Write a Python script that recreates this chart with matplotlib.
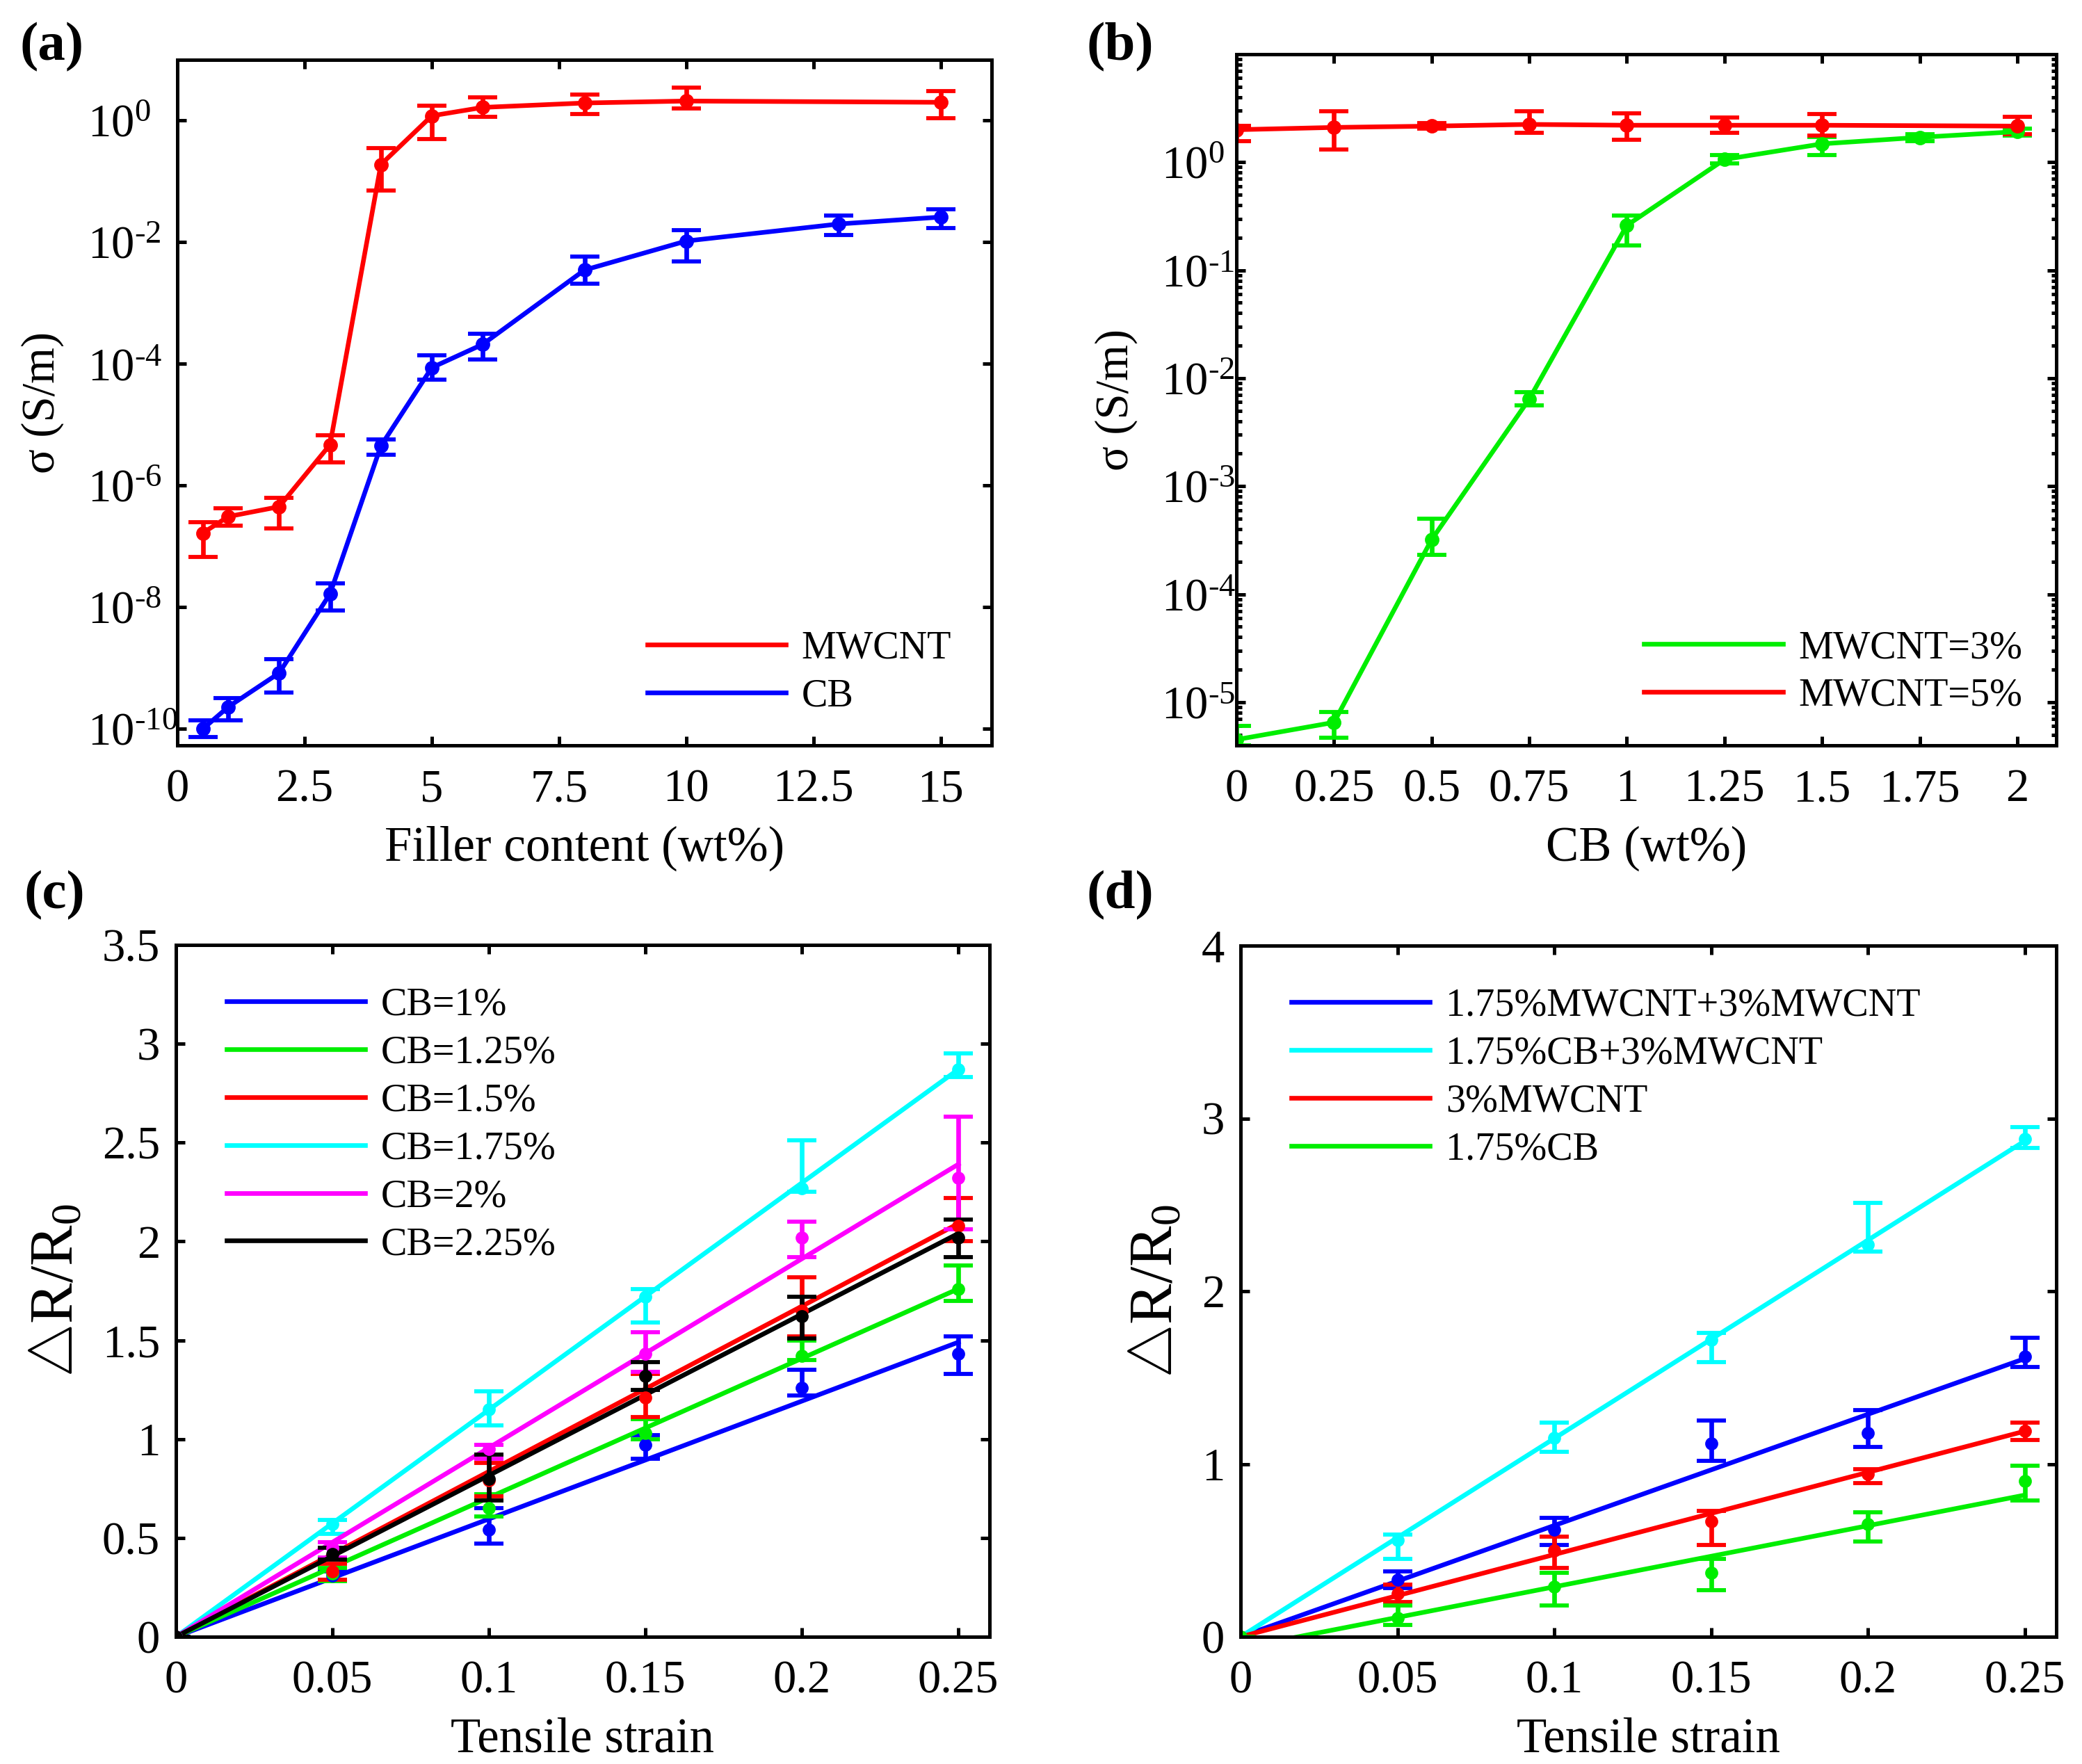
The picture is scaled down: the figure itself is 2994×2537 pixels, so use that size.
import numpy as np
import matplotlib
matplotlib.use("Agg")
import matplotlib.pyplot as plt
from matplotlib.ticker import FixedLocator, FixedFormatter, LogLocator, NullLocator

plt.rcParams.update({
    "font.family": "Liberation Serif",
    "mathtext.fontset": "custom",
    "mathtext.rm": "Liberation Serif",
    "mathtext.it": "Liberation Serif:italic",
    "mathtext.bf": "Liberation Serif:bold",
    "axes.linewidth": 1.2,
})

# ── (a) conductivity vs filler content ──────────────────────────────
a_x_mwcnt = [0.5, 1, 2, 3, 4, 5, 6, 8, 10, 15]
a_y_mwcnt = [1.66e-7, 3.1e-7, 4.5e-7, 4.7e-6, 0.19, 1.2, 1.65, 1.95, 2.1, 2.0]
a_lo_mwcnt = [6.8e-8, 2.2e-7, 2.0e-7, 2.4e-6, 0.071, 0.5, 1.15, 1.29, 1.58, 1.1]
a_hi_mwcnt = [2.5e-7, 4.2e-7, 6.3e-7, 6.8e-6, 0.35, 1.78, 2.4, 2.7, 3.5, 3.1]

a_x_cb = [0.5, 1, 2, 3, 4, 5, 6, 8, 10, 13, 15]
a_y_cb = [1.0e-10, 2.3e-10, 8.3e-10, 1.66e-8, 4.5e-6, 8.7e-5, 2.1e-4, 3.5e-3, 1.05e-2, 2.0e-2, 2.6e-2]
a_lo_cb = [7.4e-11, 1.4e-10, 4.0e-10, 8.9e-9, 3.2e-6, 5.5e-5, 1.2e-4, 2.1e-3, 4.8e-3, 1.3e-2, 1.7e-2]
a_hi_cb = [1.4e-10, 3.2e-10, 1.4e-9, 2.5e-8, 5.8e-6, 1.4e-4, 3.1e-4, 5.8e-3, 1.6e-2, 2.75e-2, 3.5e-2]

a_xticks = [0, 2.5, 5, 7.5, 10, 12.5, 15]
a_xticklabels = ["0", "2.5", "5", "7.5", "10", "12.5", "15"]
a_yticks = [1e-10, 1e-8, 1e-6, 1e-4, 1e-2, 1e0]
a_yticklabels = [r"$\mathregular{10^{\text{-}10}}$", r"$\mathregular{10^{\text{-}8}}$",
                 r"$\mathregular{10^{\text{-}6}}$", r"$\mathregular{10^{\text{-}4}}$",
                 r"$\mathregular{10^{\text{-}2}}$", r"$\mathregular{10^{0}}$"]

# ── (b) conductivity vs CB content ──────────────────────────────────
b_x_m3 = [0, 0.25, 0.5, 0.75, 1, 1.25, 1.5, 1.75, 2]
b_y_m3 = [4.5e-6, 6.5e-6, 3.2e-4, 6.4e-3, 0.26, 1.06, 1.48, 1.70, 1.92]
b_lo_m3 = [4.0e-6, 4.7e-6, 2.3e-4, 5.6e-3, 0.17, 0.97, 1.17, 1.57, 1.77]
b_hi_m3 = [6.0e-6, 8.1e-6, 5.0e-4, 7.4e-3, 0.32, 1.17, 1.71, 1.83, 2.06]

b_x_m5 = [0, 0.25, 0.5, 0.75, 1, 1.25, 1.5, 2]
b_y_m5 = [2.0, 2.1, 2.16, 2.24, 2.2, 2.2, 2.2, 2.16]
b_lo_m5 = [1.57, 1.32, 2.05, 1.87, 1.61, 1.88, 1.77, 1.83]
b_hi_m5 = [2.16, 2.95, 2.3, 2.95, 2.85, 2.59, 2.78, 2.62]

b_xticks = [0, 0.25, 0.5, 0.75, 1, 1.25, 1.5, 1.75, 2]
b_xticklabels = ["0", "0.25", "0.5", "0.75", "1", "1.25", "1.5", "1.75", "2"]
b_yticks = [1e-5, 1e-4, 1e-3, 1e-2, 1e-1, 1e0]
b_yticklabels = [r"$\mathregular{10^{\text{-}5}}$", r"$\mathregular{10^{\text{-}4}}$",
                 r"$\mathregular{10^{\text{-}3}}$", r"$\mathregular{10^{\text{-}2}}$",
                 r"$\mathregular{10^{\text{-}1}}$", r"$\mathregular{10^{0}}$"]

# ── (c) strain response for CB loadings ─────────────────────────────
strain = [0, 0.05, 0.1, 0.15, 0.2, 0.25]
c_labels = ["CB=1%", "CB=1.25%", "CB=1.5%", "CB=1.75%", "CB=2%", "CB=2.25%"]
c_colors = ["#0000FF", "#00EE00", "#FF0000", "#00FFFF", "#FF00FF", "#000000"]
c_y = [
    [0, 0.31, 0.54, 0.97, 1.26, 1.43],
    [0, 0.32, 0.65, 1.03, 1.42, 1.76],
    [0, 0.33, 0.79, 1.21, 1.65, 2.08],
    [0, 0.57, 1.15, 1.72, 2.27, 2.87],
    [0, 0.45, 0.95, 1.43, 2.02, 2.32],
    [0, 0.42, 0.80, 1.32, 1.62, 2.02],
]
c_lo = [
    [0, 0.29, 0.47, 0.90, 1.22, 1.33],
    [0, 0.28, 0.61, 1.00, 1.40, 1.70],
    [0, 0.29, 0.71, 1.11, 1.52, 2.00],
    [0, 0.52, 1.07, 1.59, 2.25, 2.83],
    [0, 0.40, 0.90, 1.34, 1.92, 2.06],
    [0, 0.39, 0.69, 1.25, 1.51, 1.92],
]
c_hi = [
    [0, 0.33, 0.65, 1.02, 1.35, 1.52],
    [0, 0.35, 0.72, 1.10, 1.50, 1.88],
    [0, 0.37, 0.88, 1.33, 1.82, 2.22],
    [0, 0.59, 1.24, 1.76, 2.51, 2.95],
    [0, 0.48, 0.97, 1.54, 2.10, 2.63],
    [0, 0.45, 0.92, 1.39, 1.72, 2.11],
]
# linear fit lines, value at strain 0 and at strain 0.25
c_fit = [[0, 1.49], [0, 1.76], [0, 2.09], [0, 2.87], [0, 2.39], [0, 2.04]]

# ── (d) strain response for filler systems ──────────────────────────
d_labels = ["1.75%MWCNT+3%MWCNT", "1.75%CB+3%MWCNT", "3%MWCNT", "1.75%CB"]
d_colors = ["#0000FF", "#00FFFF", "#FF0000", "#00EE00"]
d_y = [
    [0, 0.33, 0.62, 1.12, 1.18, 1.62],
    [0, 0.56, 1.15, 1.72, 2.27, 2.88],
    [0, 0.25, 0.50, 0.67, 0.94, 1.19],
    [0, 0.11, 0.29, 0.37, 0.65, 0.90],
]
d_lo = [
    [0, 0.28, 0.53, 1.02, 1.10, 1.56],
    [0, 0.45, 1.07, 1.59, 2.23, 2.83],
    [0, 0.20, 0.40, 0.53, 0.89, 1.14],
    [0, 0.07, 0.18, 0.27, 0.55, 0.79],
]
d_hi = [
    [0, 0.38, 0.69, 1.25, 1.31, 1.73],
    [0, 0.59, 1.24, 1.76, 2.51, 2.95],
    [0, 0.30, 0.58, 0.73, 0.97, 1.24],
    [0, 0.18, 0.37, 0.45, 0.72, 0.99],
]
d_fit = [[0, 1.61], [0, 2.87], [0, 1.19], [-0.065, 0.82]]

strain_ticks = [0, 0.05, 0.1, 0.15, 0.2, 0.25]
strain_ticklabels = ["0", "0.05", "0.1", "0.15", "0.2", "0.25"]
c_yticks = [0, 0.5, 1, 1.5, 2, 2.5, 3, 3.5]
c_yticklabels = ["0", "0.5", "1", "1.5", "2", "2.5", "3", "3.5"]
d_yticks = [0, 1, 2, 3, 4]
d_yticklabels = ["0", "1", "2", "3", "4"]

TICK_FS = 16
LEG_FS = 13.5
XLAB_FS = 17
LW = 1.6
EB = dict(elinewidth=1.6, capsize=5.0, capthick=1.4, marker="o", markersize=4.0)
LEG = dict(frameon=False, fontsize=LEG_FS, handlelength=3.55, handletextpad=0.4,
           labelspacing=0.3, borderpad=0, borderaxespad=0, loc="upper left")


def errs(y, lo, hi):
    y = np.asarray(y, float)
    return [y - np.asarray(lo, float), np.asarray(hi, float) - y]


def style(ax):
    ax.tick_params(which="both", direction="in", top=True, right=True,
                   labelsize=TICK_FS, width=1.2)
    ax.tick_params(which="major", length=3.2)
    ax.tick_params(which="minor", length=1.8)
    ax.tick_params(axis="x", pad=8)


W, H = 2994, 2537
fig = plt.figure(figsize=(W / 300, H / 300), dpi=300)


def box(l, t, r, b):
    return [l / W, 1 - b / H, (r - l) / W, (b - t) / H]


ax_a = fig.add_axes(box(255, 86, 1426, 1072))
ax_b = fig.add_axes(box(1778, 78, 2957, 1072))
ax_c = fig.add_axes(box(253, 1359, 1423, 2354))
ax_d = fig.add_axes(box(1784, 1360, 2957, 2354))

# ── panel (a) ───────────────────────────────────────────────────────
for x, y, lo, hi, col, lab in [(a_x_mwcnt, a_y_mwcnt, a_lo_mwcnt, a_hi_mwcnt, "#FF0000", "MWCNT"),
                               (a_x_cb, a_y_cb, a_lo_cb, a_hi_cb, "#0000FF", "CB")]:
    ax_a.errorbar(x, y, yerr=errs(y, lo, hi), color=col, lw=LW, **EB)
    ax_a.plot([], [], color=col, lw=LW, label=lab)
ax_a.set_yscale("log")
ax_a.set_xlim(0, 16)
ax_a.set_ylim(10 ** -10.27, 10 ** 1)
ax_a.xaxis.set_major_locator(FixedLocator(a_xticks))
ax_a.xaxis.set_major_formatter(FixedFormatter(a_xticklabels))
ax_a.yaxis.set_major_locator(FixedLocator(a_yticks))
ax_a.yaxis.set_major_formatter(FixedFormatter(a_yticklabels))
ax_a.yaxis.set_minor_locator(NullLocator())
style(ax_a)
ax_a.tick_params(axis="y", pad=31)
for t in ax_a.get_yticklabels():
    t.set_ha("left")
ax_a.set_xlabel("Filler content (wt%)", fontsize=XLAB_FS, labelpad=5)
ax_a.set_ylabel("σ (S/m)", fontsize=16, labelpad=8)
ax_a.legend(bbox_to_anchor=(0.577, 0.168), **LEG)

# ── panel (b) ───────────────────────────────────────────────────────
ax_b.errorbar(b_x_m3, b_y_m3, yerr=errs(b_y_m3, b_lo_m3, b_hi_m3), color="#00EE00", lw=LW, **EB)
ax_b.errorbar(b_x_m5, b_y_m5, yerr=errs(b_y_m5, b_lo_m5, b_hi_m5), color="#FF0000", lw=LW, **EB)
ax_b.plot([], [], color="#00EE00", lw=LW, label="MWCNT=3%")
ax_b.plot([], [], color="#FF0000", lw=LW, label="MWCNT=5%")
ax_b.set_yscale("log")
ax_b.set_xlim(0, 2.1)
ax_b.set_ylim(10 ** -5.4, 10 ** 1)
ax_b.xaxis.set_major_locator(FixedLocator(b_xticks))
ax_b.xaxis.set_major_formatter(FixedFormatter(b_xticklabels))
ax_b.yaxis.set_major_locator(FixedLocator(b_yticks))
ax_b.yaxis.set_major_formatter(FixedFormatter(b_yticklabels))
ax_b.yaxis.set_minor_locator(LogLocator(base=10, subs=np.arange(2, 10)))
style(ax_b)
ax_b.tick_params(axis="y", pad=26)
for t in ax_b.get_yticklabels():
    t.set_ha("left")
ax_b.set_xlabel("CB (wt%)", fontsize=XLAB_FS, labelpad=5)
ax_b.set_ylabel("σ (S/m)", fontsize=16, labelpad=8)
ax_b.legend(bbox_to_anchor=(0.497, 0.167), **LEG)

# ── panels (c) and (d) ──────────────────────────────────────────────
for ax, ys, los, his, fits, cols, labs, yt, ytl, ymax in [
        (ax_c, c_y, c_lo, c_hi, c_fit, c_colors, c_labels, c_yticks, c_yticklabels, 3.5),
        (ax_d, d_y, d_lo, d_hi, d_fit, d_colors, d_labels, d_yticks, d_yticklabels, 4)]:
    for y, lo, hi, fit, col, lab in zip(ys, los, his, fits, cols, labs):
        ax.plot([strain[0], strain[-1]], fit, color=col, lw=LW, label=lab)
        ax.errorbar(strain, y, yerr=errs(y, lo, hi), color=col, ls="none",
                    **{**EB, "markersize": 3.5})
    ax.set_xlim(0, 0.26)
    ax.set_ylim(0, ymax)
    ax.xaxis.set_major_locator(FixedLocator(strain_ticks))
    ax.xaxis.set_major_formatter(FixedFormatter(strain_ticklabels))
    ax.yaxis.set_major_locator(FixedLocator(yt))
    ax.yaxis.set_major_formatter(FixedFormatter(ytl))
    style(ax)
    ax.tick_params(axis="y", pad=5.5)
    ax.set_xlabel("Tensile strain", fontsize=XLAB_FS, labelpad=5)
    ax.set_ylabel(r"$\bigtriangleup\mathregular{R/R_0}$", fontsize=21, labelpad=6)
    ax.legend(bbox_to_anchor=(0.062, 0.939), **LEG)

for lab, x, y in [("(a)", 29, 32), ("(b)", 1562, 32), ("(c)", 34, 1252), ("(d)", 1562, 1252)]:
    fig.text(x / W, 1 - y / H, lab, fontsize=19, fontweight="bold", ha="left", va="top")

fig.savefig("out.png", dpi=300)
